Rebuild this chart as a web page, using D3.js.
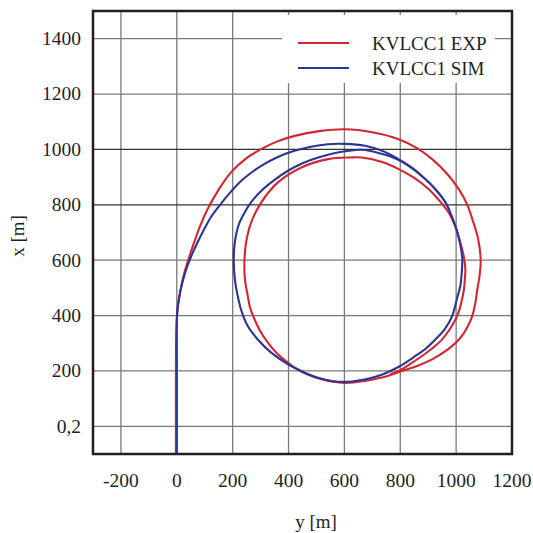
<!DOCTYPE html>
<html>
<head>
<meta charset="utf-8">
<script src="https://cdn.jsdelivr.net/npm/d3@7/dist/d3.min.js"></script>
<style>
  body { margin: 0; background: #fff; }
  text { font-family: "Liberation Serif", "DejaVu Serif", serif; fill: #231f20; }
</style>
</head>
<body>
<div id="chart"></div>
<script>
// tick values and labels
const xTicks = [-200, 0, 200, 400, 600, 800, 1000, 1200];
const yTicks = [0, 200, 400, 600, 800, 1000, 1200, 1400];
const yTickLabels = ['0,2', '200', '400', '600', '800', '1000', '1200', '1400'];

// KVLCC1 EXP trajectory (y [m], x [m])
const expY = [-3, -3, -2, 1, 5, 13, 26, 44, 62, 84, 110, 150, 194, 245, 302, 362, 422, 510, 602, 700,
  794, 860, 914, 965, 1010, 1040, 1058, 1078, 1088, 1084, 1076, 1069, 1058, 1040, 1014, 968, 914, 860, 806, 734,
  674, 602, 540, 482, 435, 398, 360, 326, 298, 278, 262, 254, 244, 242, 248, 266, 302, 362, 446, 542,
  620, 662, 730, 794, 850, 901, 940, 973, 998, 1015, 1028, 1033, 1031, 1028, 1018, 1004, 980, 950, 915, 878,
  840, 806, 765];
const expX = [-100, 200, 340, 400, 440, 490, 550, 610, 664, 725, 784, 855, 917, 965, 1001, 1030, 1049, 1066, 1073, 1062,
  1037, 1005, 965, 915, 856, 800, 748, 680, 600, 545, 495, 447, 399, 358, 318, 276, 242, 218, 200, 176,
  164, 157, 165, 182, 203, 230, 262, 302, 345, 387, 430, 471, 530, 592, 664, 736, 808, 881, 935, 965,
  971, 971, 956, 929, 897, 857, 815, 772, 720, 664, 610, 567, 530, 495, 445, 399, 355, 314, 282, 254,
  228, 206, 188];

// KVLCC1 SIM trajectory (y [m], x [m])
const simY = [0, 0, 0, 2, 6, 14, 25, 38, 55, 74, 98, 122, 152, 190, 230, 265, 302, 360, 421, 480,
  542, 602, 674, 740, 794, 845, 890, 930, 962, 985, 1004, 1016, 1022, 1020, 1015, 1004, 986, 960, 926, 892,
  854, 795, 734, 680, 614, 560, 502, 458, 395, 338, 293, 254, 232, 218, 208, 204, 206, 214, 224,
  236, 265, 302, 350, 398, 450, 506, 580, 662, 730, 794, 845, 890, 930, 962, 985, 1004, 1016, 1022, 1020,
  1015, 1004, 986, 960, 926, 892, 854];
const simX = [-100, 200, 380, 420, 450, 495, 538, 579, 622, 664, 712, 755, 796, 843, 886, 915, 941, 972, 995, 1010,
  1019, 1020, 1013, 993, 965, 932, 893, 852, 809, 757, 701, 650, 603, 555, 507, 465, 399, 352, 314, 281,
  254, 215, 186, 171, 161, 163, 176, 194, 226, 266, 310, 362, 415, 471, 530, 592, 650, 700, 735,
  760, 808, 850, 890, 923, 950, 971, 990, 999, 985, 962, 930, 892, 851, 808, 757, 701, 650, 603, 555,
  507, 465, 399, 352, 314, 281, 254];

const seriesNames = ['KVLCC1 EXP', 'KVLCC1 SIM'];
const seriesColors = ['#d22630', '#2b3593'];

const W = 533, H = 533;
const margin = {left: 93, right: 21, top: 11, bottom: 79};

const svg = d3.select('#chart').append('svg')
  .attr('width', W)
  .attr('height', H);

const x = d3.scaleLinear().domain([-300, 1200]).range([margin.left, W - margin.right]);
const y = d3.scaleLinear().domain([-100, 1500]).range([H - margin.bottom, margin.top]);

// grid
svg.append('g')
  .selectAll('line')
  .data(xTicks.filter(d => d < 1200))
  .join('line')
  .attr('x1', d => x(d)).attr('x2', d => x(d))
  .attr('y1', y(-100)).attr('y2', y(1500))
  .attr('stroke', '#7a7a7a')
  .attr('stroke-width', 1.3);

svg.append('g')
  .selectAll('line')
  .data(yTicks)
  .join('line')
  .attr('x1', x(-300)).attr('x2', x(1200))
  .attr('y1', d => y(d)).attr('y2', d => y(d))
  .attr('stroke', d => (d == 800 || d == 1000) ? '#333' : '#7a7a7a')
  .attr('stroke-width', 1.3);

// legend background hides the grid
svg.append('rect')
  .attr('x', 282).attr('y', 15)
  .attr('width', 213).attr('height', 68)
  .attr('fill', '#fff');

// trajectories
const line = d3.line()
  .x(d => x(d[0]))
  .y(d => y(d[1]))
  .curve(d3.curveCatmullRom.alpha(0.5));

const series = [
  d3.zip(expY, expX),
  d3.zip(simY, simX)
];

svg.append('clipPath').attr('id', 'plotClip')
  .append('rect')
  .attr('x', x(-300)).attr('y', y(1500))
  .attr('width', x(1200) - x(-300)).attr('height', y(-100) - y(1500));

svg.append('g')
  .attr('clip-path', 'url(#plotClip)')
  .selectAll('path')
  .data(series)
  .join('path')
  .attr('d', line)
  .attr('fill', 'none')
  .attr('stroke', (d, i) => seriesColors[i])
  .attr('stroke-width', 2.1)
  .attr('stroke-linejoin', 'round');

// frame
svg.append('rect')
  .attr('x', x(-300)).attr('y', y(1500))
  .attr('width', x(1200) - x(-300)).attr('height', y(-100) - y(1500))
  .attr('fill', 'none')
  .attr('stroke', '#231f20')
  .attr('stroke-width', 2.5);

// tick labels
svg.append('g')
  .selectAll('text')
  .data(yTicks)
  .join('text')
  .attr('x', 81)
  .attr('y', d => y(d))
  .attr('dy', '0.33em')
  .attr('text-anchor', 'end')
  .style('font-size', '19.5px')
  .text((d, i) => yTickLabels[i]);

svg.append('g')
  .selectAll('text')
  .data(xTicks)
  .join('text')
  .attr('x', d => x(d))
  .attr('y', 487)
  .attr('text-anchor', 'middle')
  .style('font-size', '19.5px')
  .text(d => d);

// axis titles
svg.append('text')
  .attr('x', 316)
  .attr('y', 528)
  .attr('text-anchor', 'middle')
  .style('font-size', '19px')
  .text('y [m]');

svg.append('text')
  .attr('transform', 'translate(24,236) rotate(-90)')
  .attr('text-anchor', 'middle')
  .style('font-size', '19px')
  .text('x [m]');

// legend
const legend = svg.append('g')
  .selectAll('g')
  .data(seriesNames)
  .join('g')
  .attr('transform', (d, i) => `translate(298, ${43 + i * 25})`);

legend.append('line')
  .attr('x1', 0).attr('x2', 51)
  .attr('stroke', (d, i) => seriesColors[i])
  .attr('stroke-width', 2.1);

legend.append('text')
  .attr('x', 74)
  .attr('y', 6.5)
  .style('font-size', '19px')
  .text(d => d);
</script>
</body>
</html>
